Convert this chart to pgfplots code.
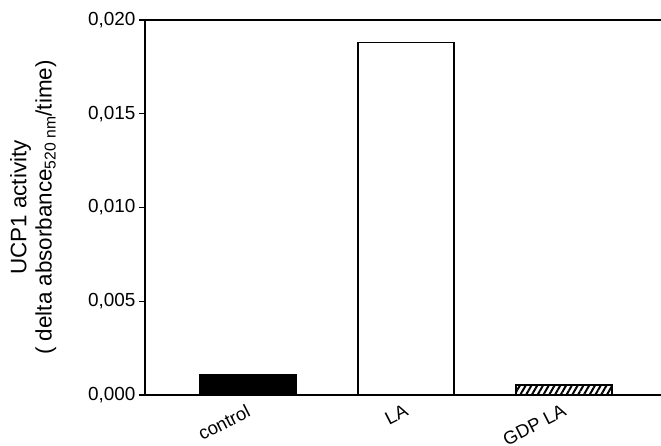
\documentclass[border=0pt]{standalone}
\usepackage{fontspec}
\setmainfont{Liberation Sans}
\usepackage{pgfplots}
\pgfplotsset{compat=1.18}
\usetikzlibrary{patterns.meta}
\begin{document}
\begin{tikzpicture}
\begin{axis}[
  scale only axis,
  width=516bp, height=375bp,
  xmin=-0.652, xmax=2.614,
  ymin=0, ymax=0.020,
  axis x line*=box,
  axis y line*=left,
  axis line style={line width=1.5bp},
  xtick={0,1,2},
  xticklabels={control,LA,GDP LA},
  major x tick style={draw=none},
  xticklabel style={rotate=27, anchor=north east, font=\fontsize{18.5}{21}\selectfont, xshift=0bp, yshift=2bp},
  ytick={0,0.005,0.010,0.015,0.020},
  ytick pos=left,
  tick align=outside,
  major tick length=6bp,
  major y tick style={line width=1.3bp, black},
  yticklabel style={font=\fontsize{19}{22}\selectfont,
    /pgf/number format/.cd, fixed, fixed zerofill, precision=3, use comma, assume math mode=true},
  scaled y ticks=false,
  ylabel={UCP1 activity\\( delta absorbance\textsubscript{520 nm}/time)},
  ylabel style={align=center, font=\fontsize{22.5}{25.5}\selectfont, at={(rel axis cs:-0.165,0.5)}, anchor=south},
  clip=false,
]
\addplot[ybar, bar width=96bp, fill=black, draw=black, line width=1.2bp] coordinates {(0,0.00107)};
\addplot[ybar, bar width=96bp, fill=white, draw=black, line width=1.2bp] coordinates {(1,0.01879)};
\addplot[ybar, bar width=96bp, fill=white, draw=black, line width=1.2bp, pattern={Lines[angle=60,distance=5bp,line width=2bp]}, pattern color=black] coordinates {(2,0.00053)};
\coordinate (bbll) at (rel axis cs:-0.281,-0.136);
\coordinate (bbur) at (rel axis cs:1,1.0533);
\end{axis}
\pgfresetboundingbox
\path[use as bounding box] (bbll) rectangle (bbur);
\end{tikzpicture}
\end{document}
